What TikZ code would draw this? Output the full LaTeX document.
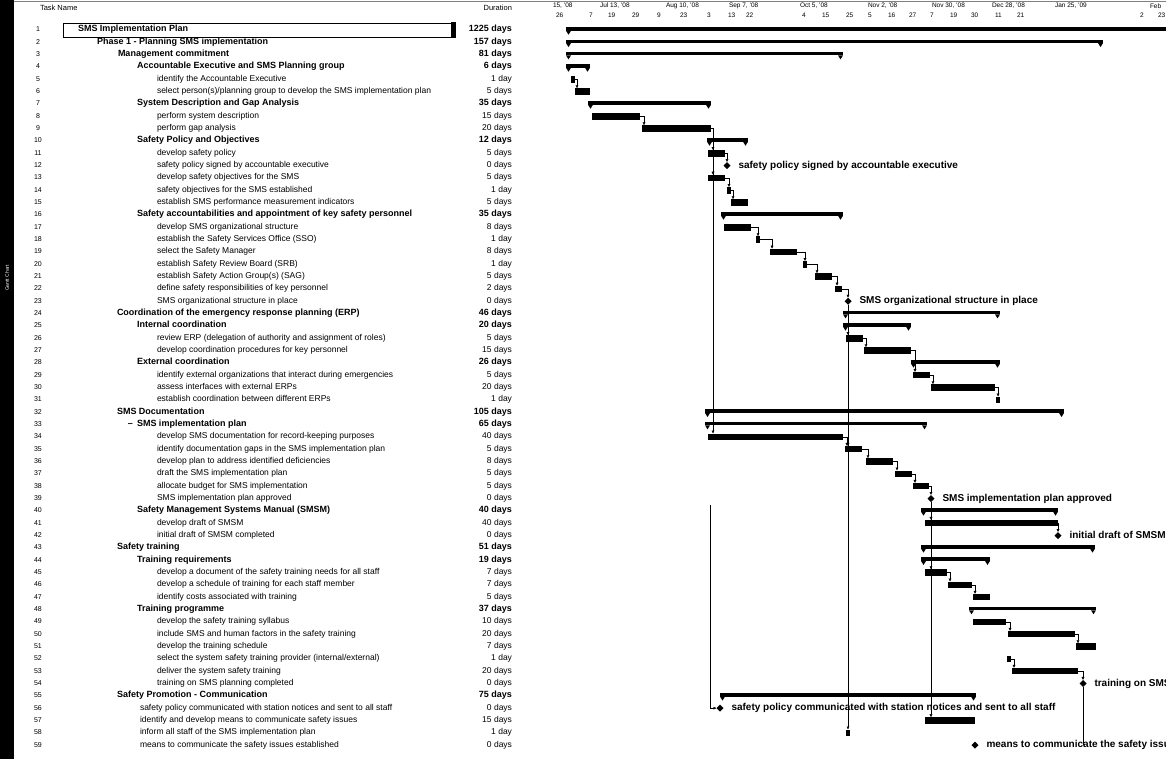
\documentclass[tikz,border=0pt]{standalone}
\usepackage{fontspec}
\setmainfont{Liberation Sans}
\usetikzlibrary{positioning, arrows.meta, shapes.geometric}

\begin{document}
\begin{tikzpicture}[x=1pt, y=-1pt, >={Latex[length=3pt, width=3pt]},
    every node/.style={inner sep=0pt, outer sep=0pt},
    idtext/.style={font=\fontsize{7}{8}\selectfont, text height=5pt, text depth=1pt},
    tasktext/.style={font=\fontsize{8.5}{9}\selectfont, text height=5.5pt, text depth=1.5pt},
    sumtext/.style={font=\fontsize{9}{10}\selectfont\bfseries, text height=5.5pt, text depth=1.5pt},
    headtext/.style={font=\fontsize{7.5}{8}\selectfont},
    scaletext/.style={font=\fontsize{6.5}{7}\selectfont, anchor=west},
    taskbar/.style={fill=black, minimum height=6.5pt, anchor=west},
    sumbar/.style={fill=black, minimum height=3.5pt, anchor=west},
    milestone/.style={diamond, fill=black, minimum size=7pt},
    mslabel/.style={font=\fontsize{10}{11}\selectfont\bfseries, anchor=west},
    link/.style={->, thin}]

    % page and frame
    \useasboundingbox (0,0) rectangle (1166,759);
    \fill[white] (0,0) rectangle (1166,759);
    \clip (0,0) rectangle (1166,759);
    \fill (0,0) rectangle (14,759); % side bar
    \node[rotate=90, text=white, font=\fontsize{5}{6}\selectfont] (sidebar) at (7,278) {Gantt Chart};
    \draw[gray] (14,1) -- (1166,1);

    % column headers
    \node[headtext, anchor=west] (hdname) at (40,8) {Task Name};
    \node[headtext, anchor=east] (hddur) at (512,8) {Duration};

    % time scale
    \foreach \p/\lab in {553/{15, '08}, 600/{Jul 13, '08}, 666/{Aug 10, '08}, 729/{Sep 7, '08},
        800/{Oct 5, '08}, 868/{Nov 2, '08}, 932/{Nov 30, '08}, 992/{Dec 28, '08},
        1055/{Jan 25, '09}, 1150/{Feb}}
        \node[scaletext] (top\p) at (\p,6) {\lab};
    \foreach \p/\lab in {556/26, 589/7, 608/19, 632/29, 657/9, 680/23, 707/3, 728/13, 746/22,
        802/4, 822/15, 846/25, 868/5, 888/16, 909/27, 930/7, 950/19, 971/30, 995/11,
        1017/21, 1140/2, 1158/23}
        \node[scaletext] (bot\p) at (\p,15) {\lab};

    % selected cell of row 1
    \draw (63,23) rectangle (455,37);
    \fill (451,22) rectangle (456,38);

    % table rows: id / indent / style / name / duration
    \foreach \i/\lvl/\sty/\nm/\dur in {
        1/78/sumtext/{SMS Implementation Plan}/{1225 days},
        2/97/sumtext/{Phase 1 - Planning SMS implementation}/{157 days},
        3/118/sumtext/{Management commitment}/{81 days},
        4/137/sumtext/{Accountable Executive and SMS Planning group}/{6 days},
        5/157/tasktext/{identify the Accountable Executive}/{1 day},
        6/157/tasktext/{select person(s)/planning group to develop the SMS implementation plan}/{5 days},
        7/137/sumtext/{System Description and Gap Analysis}/{35 days},
        8/157/tasktext/{perform system description}/{15 days},
        9/157/tasktext/{perform gap analysis}/{20 days},
        10/137/sumtext/{Safety Policy and Objectives}/{12 days},
        11/157/tasktext/{develop safety policy}/{5 days},
        12/157/tasktext/{safety policy signed by accountable executive}/{0 days},
        13/157/tasktext/{develop safety objectives for the SMS}/{5 days},
        14/157/tasktext/{safety objectives for the SMS established}/{1 day},
        15/157/tasktext/{establish SMS performance measurement indicators}/{5 days},
        16/137/sumtext/{Safety accountabilities and appointment of key safety personnel}/{35 days},
        17/157/tasktext/{develop SMS organizational structure}/{8 days},
        18/157/tasktext/{establish the Safety Services Office (SSO)}/{1 day},
        19/157/tasktext/{select the Safety Manager}/{8 days},
        20/157/tasktext/{establish Safety Review Board (SRB)}/{1 day},
        21/157/tasktext/{establish Safety Action Group(s) (SAG)}/{5 days},
        22/157/tasktext/{define safety responsibilities of key personnel}/{2 days},
        23/157/tasktext/{SMS organizational structure in place}/{0 days},
        24/117/sumtext/{Coordination of the emergency response planning (ERP)}/{46 days},
        25/137/sumtext/{Internal coordination}/{20 days},
        26/157/tasktext/{review ERP (delegation of authority and assignment of roles)}/{5 days},
        27/157/tasktext/{develop coordination procedures for key personnel}/{15 days},
        28/137/sumtext/{External coordination}/{26 days},
        29/157/tasktext/{identify external organizations that interact during emergencies}/{5 days},
        30/157/tasktext/{assess interfaces with external ERPs}/{20 days},
        31/157/tasktext/{establish coordination between different ERPs}/{1 day},
        32/117/sumtext/{SMS Documentation}/{105 days},
        33/137/sumtext/{SMS implementation plan}/{65 days},
        34/157/tasktext/{develop SMS documentation for record-keeping purposes}/{40 days},
        35/157/tasktext/{identify documentation gaps in the SMS implementation plan}/{5 days},
        36/157/tasktext/{develop plan to address identified deficiencies}/{8 days},
        37/157/tasktext/{draft the SMS implementation plan}/{5 days},
        38/157/tasktext/{allocate budget for SMS implementation}/{5 days},
        39/157/tasktext/{SMS implementation plan approved}/{0 days},
        40/137/sumtext/{Safety Management Systems Manual (SMSM)}/{40 days},
        41/157/tasktext/{develop draft of SMSM}/{40 days},
        42/157/tasktext/{initial draft of SMSM completed}/{0 days},
        43/117/sumtext/{Safety training}/{51 days},
        44/137/sumtext/{Training requirements}/{19 days},
        45/157/tasktext/{develop a document of the safety training needs for all staff}/{7 days},
        46/157/tasktext/{develop a schedule of training for each staff member}/{7 days},
        47/157/tasktext/{identify costs associated with training}/{5 days},
        48/137/sumtext/{Training programme}/{37 days},
        49/157/tasktext/{develop the safety training syllabus}/{10 days},
        50/157/tasktext/{include SMS and human factors in the safety training}/{20 days},
        51/157/tasktext/{develop the training schedule}/{7 days},
        52/157/tasktext/{select the system safety training provider (internal/external)}/{1 day},
        53/157/tasktext/{deliver the system safety training}/{20 days},
        54/157/tasktext/{training on SMS planning completed}/{0 days},
        55/117/sumtext/{Safety Promotion - Communication}/{75 days},
        56/140/tasktext/{safety policy communicated with station notices and sent to all staff}/{0 days},
        57/140/tasktext/{identify and develop means to communicate safety issues}/{15 days},
        58/140/tasktext/{inform all staff of the SMS implementation plan}/{1 day},
        59/140/tasktext/{means to communicate the safety issues established}/{0 days}}{
        \pgfmathsetmacro\yy{30+(\i-1)*12.33}
        \node[idtext] (id\i) at (38,\yy) {\i};
        \node[\sty, anchor=west] (task\i) at (\lvl,\yy) {\nm};
        \node[\sty, anchor=east] (dur\i) at (512,\yy) {\dur};
    }
    \node[sumtext, anchor=east] (fold33) at ([xshift=-4pt]task33.west) {--};

    % task bars
    \foreach \i/\a/\b in {5/571/575, 6/575/590, 8/592/640, 9/642/711, 11/708/725, 13/708/725,
        14/727/731, 15/731/748, 17/724/751, 18/756/760, 19/770/797, 20/803/807, 21/815/832,
        22/835/842, 26/846/863, 27/864/911, 29/913/930, 30/931/995, 31/996/1000, 34/708/843,
        35/845/862, 36/866/893, 37/895/912, 38/913/929, 41/925/1058, 45/925/947, 46/948/972,
        47/973/990, 49/973/1006, 50/1008/1075, 51/1076/1096, 52/1007/1011, 53/1012/1078,
        57/925/975, 58/846/850}{
        \pgfmathsetmacro\yy{30+(\i-1)*12.33}
        \node[taskbar, minimum width={\b-\a}] (bar\i) at (\a,\yy) {};
    }

    % summary bars
    \foreach \i/\a/\b in {1/566/1180, 2/566/1103, 3/566/843, 4/566/590, 7/588/711, 10/707/748,
        16/721/843, 24/843/1000, 25/843/911, 28/911/1000, 32/705/1064, 33/705/927,
        40/921/1058, 43/921/1095, 44/921/990, 48/969/1096, 55/720/976}{
        \pgfmathsetmacro\yy{30+(\i-1)*12.33-1}
        \node[sumbar, minimum width={\b-\a}] (bar\i) at (\a,\yy) {};
        \fill (bar\i.south west) -- ++(5,0) -- ++(-2.5,4) -- cycle;
        \fill (bar\i.south east) -- ++(-5,0) -- ++(2.5,4) -- cycle;
    }

    % milestones
    \foreach \i/\a/\nm in {12/727/{safety policy signed by accountable executive},
        23/848/{SMS organizational structure in place},
        39/931/{SMS implementation plan approved},
        42/1058/{initial draft of SMSM completed},
        54/1083/{training on SMS planning completed},
        56/720/{safety policy communicated with station notices and sent to all staff},
        59/975/{means to communicate the safety issues established}}{
        \pgfmathsetmacro\yy{30+(\i-1)*12.33}
        \node[milestone] (ms\i) at (\a,\yy) {};
        \node[mslabel, right=8pt of ms\i] (lbl\i) {\nm};
    }

    % links between tasks
    \foreach \p/\q in {5/6, 8/9, 13/14, 14/15, 17/18, 18/19, 19/20, 20/21, 21/22, 26/27,
        27/29, 29/30, 30/31, 34/35, 35/36, 36/37, 37/38, 45/46, 46/47, 49/50, 50/51, 52/53}
        \draw[link] (bar\p.east) -| ([xshift=2pt]bar\q.north west);
    \foreach \p/\q in {11/12, 22/23, 38/39, 41/42, 53/54}
        \draw[link] (bar\p.east) -| (ms\q.north);

    % long links
    \draw[link] (bar9.east) -| ([xshift=5pt]bar11.north west);
    \draw[link] (bar9.east) -| ([xshift=5pt]bar13.north west);
    \draw[link] (bar9.east) -| ([xshift=5pt]bar34.north west);
    \coordinate (lnkB) at (710,505);
    \draw[link] (lnkB) |- (ms56.west);
    \draw[link] (ms23.south) -- (ms23 |- bar26.north);
    \draw[link] (ms23.south) -- (ms23 |- bar35.north);
    \draw[link] (ms23.south) -- (ms23 |- bar58.north);
    \draw[link] (ms39.south) -- (ms39 |- bar41.north);
    \draw[link] (ms39.south) -- (ms39 |- bar45.north);
    \draw[link] (ms39.south) -- (ms39 |- bar57.north);
    \coordinate (lnkE) at (ms54 |- ms59);
    \draw (ms54.south) -- (lnkE);
\end{tikzpicture}
\end{document}
